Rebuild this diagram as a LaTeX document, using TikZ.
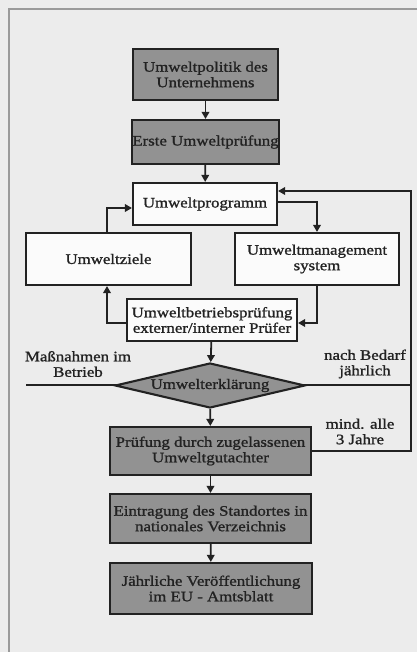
\documentclass[tikz,border=0pt]{standalone}
\usepackage{fontspec}
\setmainfont{Liberation Serif}[FakeStretch=1.16,FakeBold=1.2]
\usetikzlibrary{shapes.geometric,arrows.meta}
\definecolor{paper}{HTML}{ECECEC}
\definecolor{ink}{HTML}{222222}
\definecolor{darkfill}{HTML}{929292}
\definecolor{lightfill}{HTML}{FBFBFB}
\definecolor{framec}{HTML}{9A9A9A}
\tikzset{
  box/.style={draw=ink, line width=2.1pt, align=center, inner sep=0pt, text=ink,
              font=\fontsize{14.5}{15.5}\selectfont},
  darkbox/.style={box, fill=darkfill},
  lightbox/.style={box, fill=lightfill},
  conn/.style={draw=ink, line width=1.8pt, -{Triangle[length=7pt,width=7.5pt]}},
  lbl/.style={align=center, text=ink, inner sep=0pt, font=\fontsize{14.5}{15.5}\selectfont},
}
\begin{document}
\begin{tikzpicture}[x=1pt,y=-1pt]
\fill[paper] (0,0) rectangle (417,652);
\useasboundingbox (0,0) rectangle (417,652);
\draw[framec, line width=1.5pt] (417,9) -- (9,9) -- (9,652);

\node[darkbox, minimum width=145pt, minimum height=51pt] (b1) at (205.5,74.5) {Umweltpolitik des\\Unternehmens};
\node[darkbox, minimum width=145pt, minimum height=44pt] (b2) at (205.5,142) {Erste Umweltprüfung};
\node[lightbox, minimum width=144pt, minimum height=42pt] (b3) at (205,204) {Umweltprogramm};
\node[lightbox, minimum width=165pt, minimum height=52pt] (ziele) at (108.5,259) {Umweltziele};
\node[lightbox, minimum width=164pt, minimum height=52pt] (ums) at (317,259) {Umweltmanagement\\system};
\node[lightbox, minimum width=170pt, minimum height=42pt] (ubp) at (212,320) {Umweltbetriebsprüfung\\externer/interner Prüfer};

\coordinate (hl) at (26,385);
\coordinate (hr) at (412,385);
\draw[ink, line width=2.8pt] (hl) -- (hr);
\node[box, fill=darkfill, shape=diamond, shape aspect=4.2, minimum width=190pt, minimum height=45pt] (dia) at (210,385.5) {Umwelterklärung};

\node[darkbox, minimum width=201pt, minimum height=48pt] (pr) at (210.5,451) {Prüfung durch zugelassenen\\Umweltgutachter};
\node[darkbox, minimum width=201pt, minimum height=49pt] (ein) at (210.5,518.5) {Eintragung des Standortes in\\nationales Verzeichnis};
\node[darkbox, minimum width=202pt, minimum height=51pt] (jv) at (211,588.5) {Jährliche Veröffentlichung\\im EU - Amtsblatt};

\node[lbl] (l1) at (78,364) {Maßnahmen im\\Betrieb};
\node[lbl] (l2) at (365,364) {nach Bedarf\\jährlich};
\node[lbl] (l3) at (360,431.5) {mind. alle\\3 Jahre};

\coordinate (fb) at (411,300);

\draw[conn] (b1) -- (b2);
\draw[conn] (b2) -- (b3);
\draw[conn] ([yshift=2pt]b3.east) -| (ums.north);
\draw[conn] (ums.south) |- ([yshift=-3pt]ubp.east);
\draw[conn] ([yshift=-3pt]ubp.west) -| ([xshift=-1.5pt]ziele.south);
\draw[conn] ([xshift=-1.5pt]ziele.north) |- ([yshift=-4pt]b3.west);
\draw[conn] (ubp) -- (dia);
\draw[conn] (dia) -- (pr);
\draw[conn] (pr.east) -| (fb) |- ([yshift=13pt]b3.east);
\draw[conn] (pr) -- (ein);
\draw[conn] (ein) -- (jv);
\end{tikzpicture}
\end{document}
